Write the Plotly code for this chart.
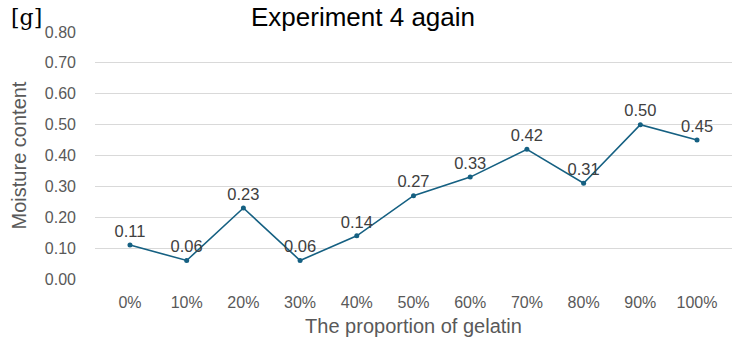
import plotly.graph_objects as go

# Gelatin proportion vs. measured moisture content
categories = ["0%", "10%", "20%", "30%", "40%", "50%", "60%", "70%", "80%", "90%", "100%"]
moisture = [0.11, 0.06, 0.23, 0.06, 0.14, 0.27, 0.33, 0.42, 0.31, 0.50, 0.45]
y_ticks = [0.0, 0.1, 0.2, 0.3, 0.4, 0.5, 0.6, 0.7, 0.8]

line_color = "#156082"
text_color = "#595959"
font_family = "Liberation Sans, Arial, sans-serif"

fig = go.Figure()
fig.add_trace(go.Scatter(
    x=categories,
    y=moisture,
    mode="lines+markers+text",
    line=dict(color=line_color, width=1.6),
    marker=dict(color=line_color, size=5),
    text=[f"{v:.2f}" for v in moisture],
    textposition="top center",
    textfont=dict(size=16.5, color="#404040", family=font_family),
    cliponaxis=False,
    showlegend=False,
))

fig.update_layout(
    width=735,
    height=340,
    margin=dict(l=95, r=3, t=32, b=61),
    paper_bgcolor="white",
    plot_bgcolor="white",
    font=dict(family=font_family, color=text_color),
    xaxis=dict(
        type="category",
        tickfont=dict(size=16, color=text_color),
        showgrid=False,
        showline=False,
        zeroline=False,
        ticks="",
        ticklabelstandoff=12,
        title=dict(text="The proportion of gelatin", font=dict(size=20, color=text_color), standoff=8),
    ),
    yaxis=dict(
        range=[0, 0.8],
        tickvals=y_ticks,
        tickformat=".2f",
        tickfont=dict(size=16, color=text_color),
        showgrid=True,
        gridcolor="#d9d9d9",
        gridwidth=1,
        zeroline=False,
        showline=False,
        ticks="",
        ticklabelstandoff=18,
        title=dict(text="Moisture content", font=dict(size=20, color=text_color), standoff=12),
    ),
)

# Chart title along the top edge
fig.add_annotation(
    text="Experiment 4 again",
    xref="paper", yref="paper",
    x=0.42, y=1.0, yshift=32,
    yanchor="top",
    showarrow=False,
    font=dict(size=26, color="#000000", family=font_family),
)

# Unit label
fig.add_annotation(
    text="[g]",
    xref="paper", yref="paper",
    x=0, y=1, xshift=-69, yshift=15,
    xanchor="center", yanchor="middle",
    showarrow=False,
    font=dict(size=22, color="#000000", family="DejaVu Serif, serif"),
)

fig.write_html("out.html")
